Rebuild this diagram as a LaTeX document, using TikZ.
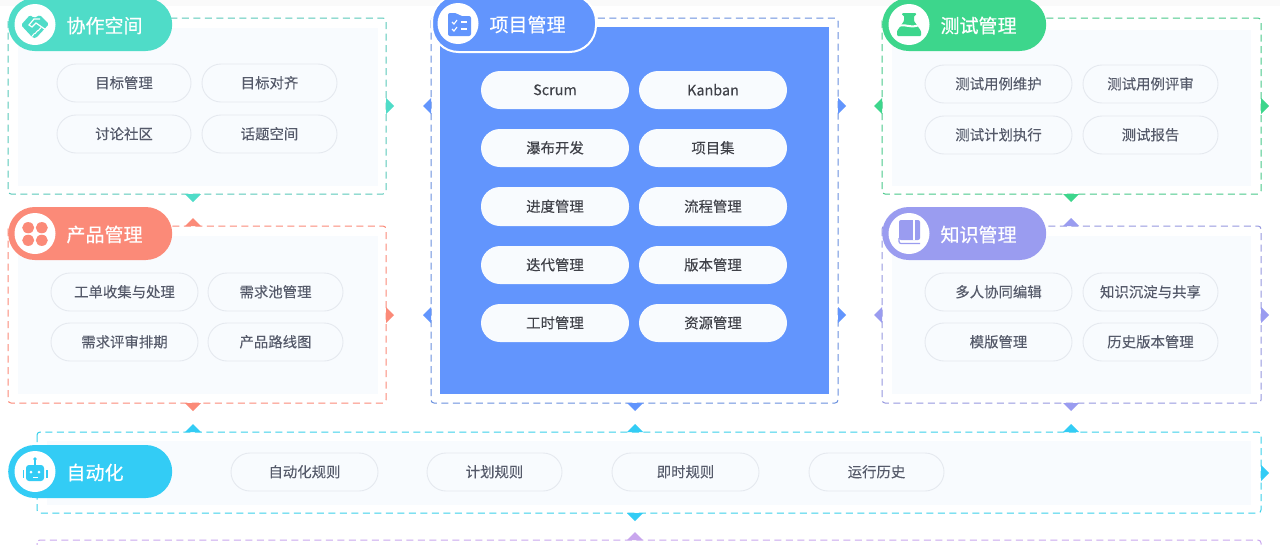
\documentclass[tikz,border=0pt]{standalone}
\usepackage{fontspec}
\setmainfont{Noto Sans CJK SC}
\newfontfamily\headfont[FakeBold=0.5]{Noto Sans CJK SC}
\newfontfamily\itemfont[FakeBold=0.12]{Noto Sans CJK SC}
\definecolor{cteal}{HTML}{4FDCC8}
\definecolor{csalmon}{HTML}{FB8A78}
\definecolor{cblue}{HTML}{6295FD}
\definecolor{cgreen}{HTML}{3DD68C}
\definecolor{cpurple}{HTML}{9A9CF0}
\definecolor{ccyan}{HTML}{33CCF5}
\definecolor{cviolet}{HTML}{C9A6EE}
\definecolor{cpale}{HTML}{F8FBFE}
\definecolor{cedge}{HTML}{E5E9EF}
\definecolor{ctext}{HTML}{555A6A}
\definecolor{cdark}{HTML}{3F4148}
\tikzset{
  item/.style={draw=cedge,fill=cpale,line width=0.9pt,rounded corners=19pt,inner sep=0pt},
  bitem/.style={fill=cpale,rounded corners=19pt,inner sep=0pt},
  head/.style={rounded corners=26.5pt,inner sep=0pt,anchor=west},
  frame/.style={dash pattern=on 7pt off 4.5pt,line width=1pt,rounded corners=3pt}
}
\newcommand{\itm}[6]{
  \node[item,minimum width=#3pt-#2pt,minimum height=#5pt-#4pt] (#1) at ({(#2+#3)/2},{(#4+#5)/2}) {};
  \node[font=\itemfont\fontsize{14.4}{16}\selectfont,text=ctext] (#1t) at ({(#2+#3)/2},{(#4+#5)/2-0.2}) {#6};
}
\newcommand{\bitm}[6]{
  \node[bitem,minimum width=#3pt-#2pt,minimum height=#5pt-#4pt] (#1) at ({(#2+#3)/2},{(#4+#5)/2}) {};
  \node[font=\itemfont\fontsize{14.4}{16}\selectfont,text=cdark] (#1t) at ({(#2+#3)/2},{(#4+#5)/2-0.2}) {#6};
}
\newcommand{\trir}[3]{\fill[#1] (#2,#3-8) -- (#2+8,#3) -- (#2,#3+8) -- cycle;}
\newcommand{\tril}[3]{\fill[#1] (#2,#3-8) -- (#2-8,#3) -- (#2,#3+8) -- cycle;}
\newcommand{\trid}[3]{\fill[#1] (#2-8,#3) -- (#2,#3+8) -- (#2+8,#3) -- cycle;}
\newcommand{\triu}[3]{\fill[#1] (#2-8,#3) -- (#2,#3-8) -- (#2+8,#3) -- cycle;}
\newcommand{\headpill}[7]{%
  \node[head,fill=#2,minimum width=164pt,minimum height=#5pt-#4pt,#7] (#1) at (#3,{(#4+#5)/2}) {};
  \node[font=\headfont\fontsize{19}{22}\selectfont,text=white,anchor=west] (#1t) at (#3+55,{(#4+#5)/2+1}) {#6};
  \fill[white] (#3+27,{(#4+#5)/2}) circle (20.5);
}
\begin{document}
\begin{tikzpicture}[x=1pt,y=-1pt]
\useasboundingbox (0,0) rectangle (1280,544);
\fill[white] (0,0) rectangle (1280,544);
\fill[black!2] (0,0) rectangle (1280,6);
\fill[cpale] (18,28) rectangle (378,186);
\fill[cpale] (18,236) rectangle (378,394);
\fill[cpale] (892,30) rectangle (1251,186);
\fill[cpale] (892,236) rectangle (1251,394);
\fill[cpale] (47,441) rectangle (1251,505);
\fill[cblue] (440,27) rectangle (829,394);
\draw[frame,cteal!80!gray] (8,18) rectangle (386,194);
\draw[frame,csalmon] (8,226) rectangle (386,403);
\draw[frame,cblue!75!gray] (431,18) rectangle (838,403);
\draw[frame,cgreen!85!gray] (882,18) rectangle (1261,194);
\draw[frame,cpurple!85!gray] (882,226) rectangle (1261,403);
\draw[frame,ccyan!75!cteal] (37,432) rectangle (1261,513);
\draw[frame,cviolet] (37,540) rectangle (1261,560);
\trir{cteal}{386}{106} \trid{cteal}{193}{194}
\triu{csalmon}{193}{226} \trir{csalmon}{386}{315} \trid{csalmon}{193}{403}
\tril{cblue}{431}{106} \trir{cblue}{838}{106} \tril{cblue}{431}{315} \trir{cblue}{838}{315} \trid{cblue}{635}{403}
\tril{cgreen}{882}{106} \trir{cgreen}{1261}{106} \trid{cgreen}{1071}{194}
\triu{cpurple}{1071}{226} \tril{cpurple}{882}{315} \trir{cpurple}{1261}{315} \trid{cpurple}{1071}{403}
\triu{ccyan}{193}{432} \triu{ccyan}{635}{432} \triu{ccyan}{1071}{432} \trir{ccyan}{1261}{473} \trid{ccyan}{635}{513}
\triu{cviolet}{635}{540}
\itm{a1}{57}{191}{64}{102}{目标管理}
\itm{a2}{202}{337}{64}{102}{目标对齐}
\itm{a3}{57}{191}{115}{153}{讨论社区}
\itm{a4}{202}{337}{115}{153}{话题空间}
\itm{b1}{51}{198}{273}{311}{工单收集与处理}
\itm{b2}{208}{343}{273}{311}{需求池管理}
\itm{b3}{51}{198}{323}{361}{需求评审排期}
\itm{b4}{208}{343}{323}{361}{产品路线图}
\bitm{c1}{481}{629}{71}{109}{Scrum}
\bitm{c2}{639}{787}{71}{109}{Kanban}
\bitm{c3}{481}{629}{129}{167}{瀑布开发}
\bitm{c4}{639}{787}{129}{167}{项目集}
\bitm{c5}{481}{629}{187}{226}{进度管理}
\bitm{c6}{639}{787}{187}{226}{流程管理}
\bitm{c7}{481}{629}{246}{284}{迭代管理}
\bitm{c8}{639}{787}{246}{284}{版本管理}
\bitm{c9}{481}{629}{304}{342}{工时管理}
\bitm{c10}{639}{787}{304}{342}{资源管理}
\itm{d1}{925}{1072}{65}{103}{测试用例维护}
\itm{d2}{1083}{1218}{65}{103}{测试用例评审}
\itm{d3}{925}{1072}{116}{154}{测试计划执行}
\itm{d4}{1083}{1218}{116}{154}{测试报告}
\itm{e1}{925}{1072}{273}{311}{多人协同编辑}
\itm{e2}{1083}{1218}{273}{311}{知识沉淀与共享}
\itm{e3}{925}{1072}{323}{361}{模版管理}
\itm{e4}{1083}{1218}{323}{361}{历史版本管理}
\itm{f1}{231}{378}{453}{491}{自动化规则}
\itm{f2}{427}{562}{453}{491}{计划规则}
\itm{f3}{612}{759}{453}{491}{即时规则}
\itm{f4}{809}{944}{453}{491}{运行历史}
\headpill{ha}{cteal}{8}{-2}{51}{协作空间}{}
\headpill{hb}{csalmon}{8}{207}{260}{产品管理}{}
\headpill{hc}{cblue}{431}{-5}{52}{项目管理}{draw=white,line width=2pt}
\headpill{hd}{cgreen}{882}{-2}{51}{测试管理}{}
\headpill{he}{cpurple}{882}{207}{260}{知识管理}{}
\headpill{hf}{ccyan}{8}{445}{498}{自动化}{}
% handshake
\fill[cteal,rounded corners=1.5pt] (21,25) -- (30,15) -- (34,18) -- (40,15) -- (49,24) -- (36,38) -- (33,38) -- cycle;
\draw[white,line width=1.2pt] (40,19) -- (34,19) -- (29,25) -- (32,27) -- (36,23) -- (46,30);
\foreach \k in {0,3.2,6.4}{\draw[white,line width=1pt] (41-\k,27.5+\k*0.9) -- (38-\k,31+\k*0.9);}
% quatrefoil
\foreach \dx/\dy in {-1/-1,1/-1,-1/1,1/1}{\fill[csalmon] (35+\dx*6.8,234+\dy*6.3) ellipse (6 and 5.6);}
% folder
\fill[cblue,rounded corners=2pt] (448,13) -- (457,13) -- (460,16) -- (471,16) -- (471,36) -- (448,36) -- cycle;
\foreach \yy in {22,29}{
  \draw[white,line width=1.1pt] (452,\yy) -- (454,\yy+2) -- (457,\yy-2);
  \draw[white,line width=1.1pt] (461,\yy) -- (467,\yy);
}
% flask
\fill[cgreen,rounded corners=1pt] (902,13) -- (916,13) -- (916,15.5) -- (914,15.5) -- (914,21) -- (921,31) -- (921,36) -- (897,36) -- (897,31) -- (904,21) -- (904,15.5) -- (902,15.5) -- cycle;
\draw[white,line width=2pt] (897,27) .. controls (904,22) and (911,30) .. (921,24);
% book
\fill[cpurple,rounded corners=2pt] (899,220) rectangle (920,240);
\fill[white] (913.2,220) rectangle (915,240);
\draw[cpurple,line width=1.2pt,rounded corners=2pt] (899,238) -- (899,243.5) -- (920,243.5);
% robot
\fill[ccyan,rounded corners=3pt] (26,465) rectangle (44,481);
\fill[ccyan] (22.5,470) rectangle (24,478);
\fill[ccyan] (46,470) rectangle (47.5,478);
\draw[ccyan,line width=1.2pt] (35,465) -- (35,460);
\fill[ccyan] (35,459) circle (1.8);
\fill[white] (31,472) circle (1.5);\fill[white] (39,472) circle (1.5);
\fill[white] (32.5,476.5) rectangle (37.5,478);
\end{tikzpicture}
\end{document}
